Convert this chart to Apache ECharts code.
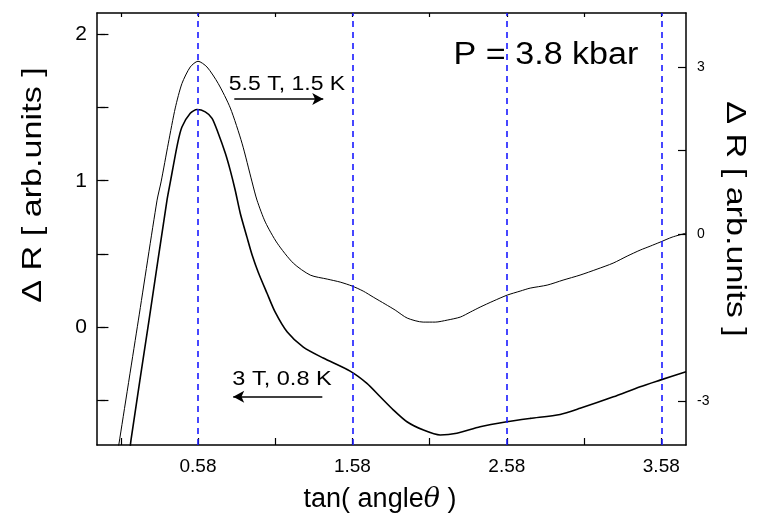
<!DOCTYPE html>
<html>
<head>
<meta charset="utf-8">
<script src="https://cdn.jsdelivr.net/npm/echarts@6/dist/echarts.min.js"></script>
<style>html,body{margin:0;padding:0;background:#fff}#c{width:762px;height:523px}</style>
</head>
<body>
<div id="c"></div>
<script>
// ---- data ----
// upper curve: 5.5 T, 1.5 K  (right axis)
const upperX = [0.058,0.067,0.194,0.315,0.341,0.388,0.433,0.476,0.530,0.580,0.638,0.711,0.789,0.865,0.930,0.962,1.016,1.093,1.197,1.307,1.417,1.501,1.579,1.650,1.715,1.792,1.857,1.935,2.038,2.116,2.194,2.278,2.343,2.407,2.491,2.582,2.666,2.731,2.841,2.944,3.054,3.164,3.268,3.359,3.443,3.508,3.572,3.650,3.740];
const upperY = [-3.97,-3.79,-1.545,0.611,0.939,1.635,2.269,2.707,3.005,3.108,3.005,2.707,2.269,1.635,0.939,0.611,0.216,-0.162,-0.521,-0.736,-0.808,-0.862,-0.934,-1.024,-1.132,-1.257,-1.365,-1.509,-1.581,-1.581,-1.545,-1.491,-1.401,-1.311,-1.204,-1.096,-1.024,-0.970,-0.916,-0.826,-0.736,-0.629,-0.521,-0.395,-0.287,-0.216,-0.144,-0.054,0.018];
// lower curve: 3 T, 0.8 K  (left axis)
const lowerX = [0.135,0.146,0.263,0.379,0.401,0.448,0.476,0.530,0.574,0.627,0.671,0.711,0.757,0.789,0.821,0.854,0.897,0.931,0.970,1.027,1.080,1.158,1.262,1.391,1.565,1.674,1.760,1.846,1.933,2.040,2.148,2.256,2.407,2.580,2.731,2.925,3.054,3.270,3.443,3.572,3.740];
const lowerY = [-0.912,-0.775,0.046,0.866,0.992,1.256,1.368,1.462,1.487,1.471,1.427,1.325,1.188,1.071,0.935,0.776,0.614,0.490,0.374,0.230,0.100,-0.036,-0.139,-0.214,-0.303,-0.387,-0.479,-0.570,-0.650,-0.707,-0.741,-0.729,-0.684,-0.650,-0.627,-0.600,-0.558,-0.479,-0.410,-0.365,-0.308];
// axes
const xTicks = [0.08,0.58,1.08,1.58,2.08,2.58,3.08,3.58];
const xLabels = [0.58,1.58,2.58,3.58];
const dashedX = [0.58,1.58,2.58,3.58];
const leftTicks = [-0.5,0,0.5,1,1.5,2];
const leftLabels = [0,1,2];
const rightTicks = [-3,0,1.5,3];
const rightLabels = [-3,0,3];
// annotation arrows (data coords, left axis)
const arrowUp = {x0:0.815, x1:1.391, y:1.56};
const arrowDown = {x0:1.385, x1:0.808, y:-0.479};

const upperData = upperX.map((x,i)=>[x, upperY[i]]);
const lowerData = lowerX.map((x,i)=>[x, lowerY[i]]);

const FONT = '"Liberation Sans", Arial, sans-serif';
const axisLineStyle = {color:'#000', width:1.5};

const chart = echarts.init(document.getElementById('c'), null, {renderer:'canvas'});
chart.setOption({
  animation:false,
  backgroundColor:'#fff',
  grid:{left:97, right:76, top:13, bottom:78},
  xAxis:[
    {type:'value', position:'bottom', min:-0.074, max:3.74,
     axisLine:{show:true, onZero:false, lineStyle:axisLineStyle},
     axisTick:{show:true, inside:true, length:7, customValues:xTicks, lineStyle:{color:'#000', width:1.2}},
     axisLabel:{customValues:xLabels, margin:12, color:'#000', fontSize:19, fontFamily:FONT, formatter:v=>v.toFixed(2)},
     splitLine:{show:false}},
    {type:'value', position:'top', min:-0.074, max:3.74,
     axisLine:{show:true, onZero:false, lineStyle:axisLineStyle},
     axisTick:{show:true, inside:true, length:4, customValues:xTicks, lineStyle:{color:'#000', width:1.2}},
     axisLabel:{show:false}, splitLine:{show:false}}
  ],
  yAxis:[
    {type:'value', position:'left', min:-0.809, max:2.148,
     axisLine:{show:true, onZero:false, lineStyle:axisLineStyle},
     axisTick:{show:true, inside:true, length:8, customValues:leftTicks, lineStyle:{color:'#000', width:1.2}},
     axisLabel:{customValues:leftLabels, margin:10, color:'#000', fontSize:21, fontFamily:FONT},
     splitLine:{show:false}},
    {type:'value', position:'right', min:-3.79, max:3.975,
     axisLine:{show:true, onZero:false, lineStyle:axisLineStyle},
     axisTick:{show:true, inside:true, length:8, customValues:rightTicks, lineStyle:{color:'#000', width:1.2}},
     axisLabel:{customValues:rightLabels, margin:11, color:'#000', fontSize:14, fontFamily:FONT},
     splitLine:{show:false}},
    {type:'value', position:'right', min:-0.809, max:2.148,
     axisLine:{show:false},
     axisTick:{show:true, inside:true, length:8, customValues:leftTicks, lineStyle:{color:'#000', width:1.2}},
     axisLabel:{show:false}, splitLine:{show:false}}
  ],
  series:[
    {name:'5.5 T, 1.5 K', type:'line', xAxisIndex:0, yAxisIndex:1, data:upperData,
     showSymbol:false, smooth:0.25, lineStyle:{color:'#000', width:1}, silent:true, z:3,
     markLine:{silent:true, symbol:'none', label:{show:false},
       lineStyle:{color:'#1a1aff', width:1.6, type:[6,5]},
       data: dashedX.map(v=>({xAxis:v}))}},
    {name:'3 T, 0.8 K', type:'line', xAxisIndex:0, yAxisIndex:0, data:lowerData,
     showSymbol:false, smooth:0.25, lineStyle:{color:'#000', width:1.6}, silent:true, z:4,
     markLine:{silent:true, symbol:['none','arrow'], symbolSize:[9,11], label:{show:false},
       lineStyle:{color:'#000', width:1.6, type:'solid'},
       data:[
         [{coord:[arrowUp.x0, arrowUp.y]},{coord:[arrowUp.x1, arrowUp.y]}],
         [{coord:[arrowDown.x0, arrowDown.y]},{coord:[arrowDown.x1, arrowDown.y]}]
       ]}}
  ],
  graphic:[
    {type:'text', x:33, y:185, rotation:Math.PI/2, scaleX:1.22,
     style:{text:'Δ R [ arb.units ]', x:0, y:0, align:'center', verticalAlign:'middle', fill:'#000', font:'28px '+FONT}},
    {type:'text', x:735, y:219, rotation:-Math.PI/2, scaleX:1.22,
     style:{text:'Δ R [ arb.units ]', x:0, y:0, align:'center', verticalAlign:'middle', fill:'#000', font:'28px '+FONT}},
    {type:'text', x:380, y:500,
     style:{text:'tan( angle{i|θ} )', x:0, y:0, align:'center', verticalAlign:'middle', fill:'#000', font:'27px '+FONT,
       rich:{i:{fontStyle:'italic', fontSize:27, fontFamily:'"DejaVu Serif", serif', fill:'#000'}}}},
    {type:'text', x:546, y:55, scaleX:1.1,
     style:{text:'P = 3.8 kbar', x:0, y:0, align:'center', verticalAlign:'middle', fill:'#000', font:'31px '+FONT}},
    {type:'text', x:287, y:84, scaleX:1.15,
     style:{text:'5.5 T, 1.5 K', x:0, y:0, align:'center', verticalAlign:'middle', fill:'#000', font:'20px '+FONT}},
    {type:'text', x:282, y:379, scaleX:1.12,
     style:{text:'3 T, 0.8 K', x:0, y:0, align:'center', verticalAlign:'middle', fill:'#000', font:'21px '+FONT}}
  ]
});
</script>
</body>
</html>
